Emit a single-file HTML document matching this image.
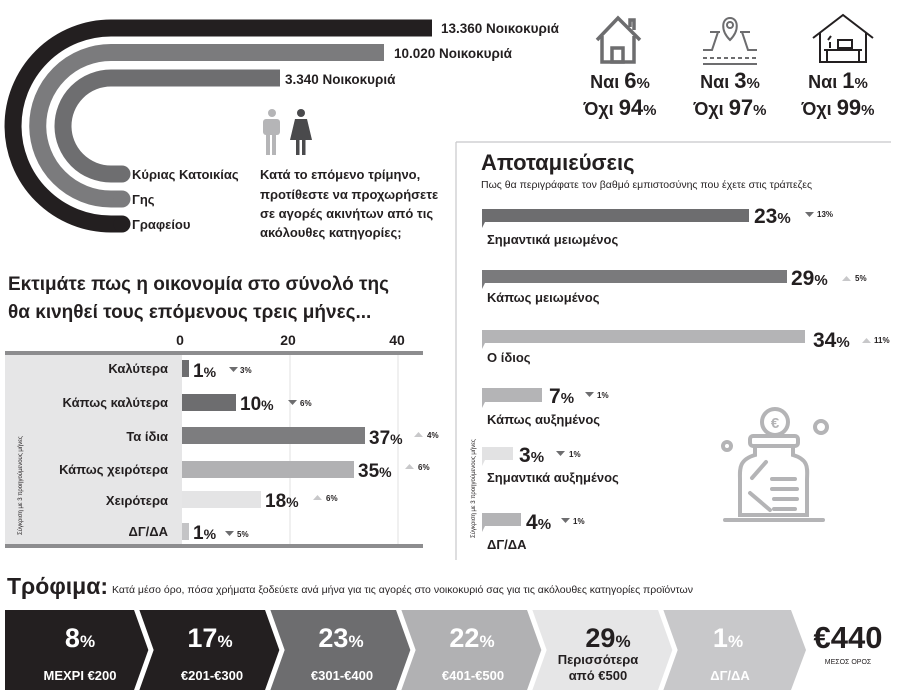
<!DOCTYPE html>
<html><head><meta charset="utf-8"><style>
html,body{margin:0;padding:0;background:#fff}
svg{display:block}
text{font-family:"Liberation Sans",sans-serif;fill:#231f20}
.b{font-weight:bold}
</style></head><body>
<svg width="914" height="695" viewBox="0 0 914 695" xmlns="http://www.w3.org/2000/svg">
<path d="M432 28 H111 A98 98 0 0 0 111 224 H122" fill="none" stroke="#231f20" stroke-width="17"/>
<circle cx="122" cy="224" r="8.5" fill="#231f20"/>
<path d="M384 52.5 H111 A73.25 73.25 0 0 0 111 199 H122" fill="none" stroke="#7b7b7d" stroke-width="17"/>
<circle cx="122" cy="199" r="8.5" fill="#7b7b7d"/>
<path d="M280 78 H111 A48 48 0 0 0 111 174 H122" fill="none" stroke="#6e6e70" stroke-width="17"/>
<circle cx="122" cy="174" r="8.5" fill="#6e6e70"/>
<text x="441" y="33" class="b" font-size="13.5">13.360 Νοικοκυριά</text>
<text x="394" y="58" class="b" font-size="13.5">10.020 Νοικοκυριά</text>
<text x="285" y="84" class="b" font-size="13.5">3.340 Νοικοκυριά</text>
<text x="132" y="179" class="b" font-size="13">Κύριας Κατοικίας</text>
<text x="132" y="204" class="b" font-size="13">Γης</text>
<text x="132" y="229" class="b" font-size="13">Γραφείου</text>
<text class="b" font-size="13"><tspan x="260" y="179">Κατά το επόμενο τρίμηνο,</tspan><tspan x="260" y="199">προτίθεστε να προχωρήσετε</tspan><tspan x="260" y="218">σε αγορές ακινήτων από τις</tspan><tspan x="260" y="237">ακόλουθες κατηγορίες;</tspan></text>
<g fill="#b5b5b7"><circle cx="272" cy="113" r="4"/><rect x="263" y="119" width="17" height="16" rx="3"/><rect x="266" y="133" width="4" height="22"/><rect x="272" y="133" width="4" height="22"/></g>
<g fill="#4a4a4c"><circle cx="301" cy="113" r="4"/><path d="M295 119 H307 L312 140 H290 Z"/><rect x="296" y="138" width="3.5" height="17"/><rect x="302" y="138" width="3.5" height="17"/></g>
<g fill="none" stroke="#6d6d6f" stroke-width="3.5"><path d="M597 40 L618 18 L640 40"/><path d="M602 36 V62 H634 V36"/><rect x="612" y="48" width="11" height="14"/><path d="M630 27 V20 H634 V30"/></g>
<g fill="none" stroke="#6d6d6f" stroke-width="2"><path d="M730 40 C720 30 722 18 730 18 C738 18 740 30 730 40Z"/><circle cx="730" cy="25" r="3"/><path d="M718 32 L712 50 H703 M742 32 L748 50 H757 M720 32 H710 M740 32 H750"/><path d="M703 58 H757" stroke-dasharray="4 3"/><path d="M703 64 H757"/></g>
<g fill="none" stroke="#231f20" stroke-width="2"><path d="M813 38 L843 15 L873 38"/><path d="M820 33 V62 H866 V33"/><path d="M824 50 H862 M827 50 V62 M859 50 V62 M838 40 H852 V48 H838Z M828 40 L831 36 M830 48 V42"/></g>
<g class="b" text-anchor="middle">
<text x="620" y="88" font-size="18">Ναι <tspan font-size="22">6</tspan><tspan font-size="15">%</tspan></text>
<text x="620" y="115" font-size="18">Όχι <tspan font-size="22">94</tspan><tspan font-size="15">%</tspan></text>
<text x="730" y="88" font-size="18">Ναι <tspan font-size="22">3</tspan><tspan font-size="15">%</tspan></text>
<text x="730" y="115" font-size="18">Όχι <tspan font-size="22">97</tspan><tspan font-size="15">%</tspan></text>
<text x="838" y="88" font-size="18">Ναι <tspan font-size="22">1</tspan><tspan font-size="15">%</tspan></text>
<text x="838" y="115" font-size="18">Όχι <tspan font-size="22">99</tspan><tspan font-size="15">%</tspan></text>
</g>
<path d="M456 142 H891 M456 142 V560" stroke="#c8c8ca" stroke-width="1.2" fill="none"/>
<text class="b" font-size="19"><tspan x="8" y="290">Εκτιμάτε πως η οικονομία στο σύνολό της</tspan><tspan x="8" y="318">θα κινηθεί τους επόμενους τρεις μήνες...</tspan></text>
<rect x="5" y="355" width="177" height="190" fill="#e6e6e7"/>
<path d="M290 355 V545 M398 355 V545" stroke="#e0e0e0"/>
<rect x="5" y="351" width="418" height="4" fill="#8d8d8f"/>
<rect x="5" y="544" width="418" height="4" fill="#8d8d8f"/>
<g class="b" font-size="14" text-anchor="middle"><text x="180" y="345">0</text><text x="288" y="345">20</text><text x="397" y="345">40</text></g>
<text transform="translate(22,535) rotate(-90)" font-size="6" fill="#555">Σύγκριση με 3 προηγούμενους μήνες</text>
<g class="b" font-size="13" text-anchor="end">
<text x="168" y="373">Καλύτερα</text><text x="168" y="407">Κάπως καλύτερα</text><text x="168" y="441">Τα ίδια</text><text x="168" y="474">Κάπως χειρότερα</text><text x="168" y="505">Χειρότερα</text><text x="168" y="536">ΔΓ/ΔΑ</text>
</g>
<rect x="182" y="360" width="7" height="17" fill="#6d6d6f"/>
<rect x="182" y="394" width="54" height="17" fill="#6d6d6f"/>
<rect x="182" y="427" width="183" height="17" fill="#7d7d7f"/>
<rect x="182" y="461" width="172" height="17" fill="#b1b1b3"/>
<rect x="182" y="491" width="79" height="17" fill="#e4e4e5"/>
<rect x="182" y="523" width="7" height="17" fill="#c4c4c6"/>
<g class="b" font-size="19">
<text x="193" y="377">1<tspan font-size="14">%</tspan></text>
<text x="240" y="410">10<tspan font-size="14">%</tspan></text>
<text x="369" y="444">37<tspan font-size="14">%</tspan></text>
<text x="358" y="477">35<tspan font-size="14">%</tspan></text>
<text x="265" y="507">18<tspan font-size="14">%</tspan></text>
<text x="193" y="539">1<tspan font-size="14">%</tspan></text>
</g>
<g font-size="8" font-weight="bold">
<path d="M229 367 h9 l-4.5 5z" fill="#6d6d6f"/><text x="240" y="373" fill="#888">3%</text>
<path d="M288 400 h9 l-4.5 5z" fill="#6d6d6f"/><text x="300" y="406" fill="#888">6%</text>
<path d="M414 437 h9 l-4.5 -5z" fill="#c8c8ca"/><text x="427" y="438" fill="#bbb">4%</text>
<path d="M405 469 h9 l-4.5 -5z" fill="#c8c8ca"/><text x="418" y="470" fill="#bbb">6%</text>
<path d="M313 500 h9 l-4.5 -5z" fill="#c8c8ca"/><text x="326" y="501" fill="#bbb">6%</text>
<path d="M225 531 h9 l-4.5 5z" fill="#6d6d6f"/><text x="237" y="537" fill="#888">5%</text>
</g>
<text x="481" y="170" class="b" font-size="22">Αποταμιεύσεις</text>
<text x="481" y="188" font-size="10.5">Πως θα περιγράφατε τον βαθμό εμπιστοσύνης που έχετε στις τράπεζες</text>
<text transform="translate(475,538) rotate(-90)" font-size="6" fill="#555">Σύγκριση με 3 προηγούμενους μήνες</text>
<g>
<path d="M482 209 H749 V222 H485 L482 228Z" fill="#6d6d6f"/>
<path d="M482 270 H787 V283 H485 L482 289Z" fill="#7a7a7c"/>
<path d="M482 330 H805 V343 H485 L482 349Z" fill="#b4b4b6"/>
<path d="M482 388 H542 V402 H485 L482 408Z" fill="#b4b4b6"/>
<path d="M482 447 H513 V460 H485 L482 466Z" fill="#e2e2e3"/>
<path d="M482 513 H521 V526 H485 L482 532Z" fill="#b4b4b6"/>
</g>
<g class="b" font-size="13">
<text x="487" y="244">Σημαντικά μειωμένος</text>
<text x="487" y="302">Κάπως μειωμένος</text>
<text x="487" y="362">Ο ίδιος</text>
<text x="487" y="424">Κάπως αυξημένος</text>
<text x="487" y="482">Σημαντικά αυξημένος</text>
<text x="487" y="549">ΔΓ/ΔΑ</text>
</g>
<g class="b" font-size="21">
<text x="754" y="223">23<tspan font-size="15">%</tspan></text>
<text x="791" y="285">29<tspan font-size="15">%</tspan></text>
<text x="813" y="347">34<tspan font-size="15">%</tspan></text>
<text x="549" y="403">7<tspan font-size="15">%</tspan></text>
<text x="519" y="462">3<tspan font-size="15">%</tspan></text>
<text x="526" y="529">4<tspan font-size="15">%</tspan></text>
</g>
<g font-size="8" font-weight="bold">
<path d="M805 212 h9 l-4.5 5z" fill="#6d6d6f"/><text x="817" y="217" fill="#888">13%</text>
<path d="M842 281 h9 l-4.5 -5z" fill="#c8c8ca"/><text x="855" y="281" fill="#bbb">5%</text>
<path d="M862 343 h9 l-4.5 -5z" fill="#c8c8ca"/><text x="874" y="343" fill="#bbb">11%</text>
<path d="M585 392 h9 l-4.5 5z" fill="#6d6d6f"/><text x="597" y="398" fill="#888">1%</text>
<path d="M556 451 h9 l-4.5 5z" fill="#6d6d6f"/><text x="569" y="457" fill="#888">1%</text>
<path d="M561 518 h9 l-4.5 5z" fill="#6d6d6f"/><text x="573" y="524" fill="#888">1%</text>
</g>
<g fill="none" stroke="#b4b4b6" stroke-width="4" stroke-linecap="round">
<circle cx="775" cy="422" r="13"/><circle cx="821" cy="427" r="6"/><circle cx="727" cy="446" r="4"/>
<rect x="750" y="436" width="48" height="10" rx="3"/>
<path d="M755 446 V455 C738 460 740 470 740 480 V515 H807 V480 C807 470 810 460 793 455 V446"/>
<path d="M725 520 H823"/>
<path d="M752 478 L766 462 M750 493 L770 510 M772 479 H795 M772 489 H797 M774 499 H797 M774 509 H795"/>
</g>
<text x="775" y="428" font-size="15" class="b" text-anchor="middle" style="fill:#b4b4b6">€</text>
<text x="7" y="594" class="b" font-size="23">Τρόφιμα:</text>
<text x="112" y="593" font-size="10.5">Κατά μέσο όρο, πόσα χρήματα ξοδεύετε ανά μήνα για τις αγορές στο νοικοκυριό σας για τις ακόλουθες κατηγορίες προϊόντων</text>
<g>
<path d="M5 610 H136 L151 650 L136 690 H5 Z" fill="#231f20"/>
<path d="M136 610 H267 L282 650 L267 690 H136 L151 650Z" fill="#231f20"/>
<path d="M267 610 H398 L413 650 L398 690 H267 L282 650Z" fill="#6d6d6f"/>
<path d="M398 610 H529 L544 650 L529 690 H398 L413 650Z" fill="#b1b1b3"/>
<path d="M529 610 H660 L675 650 L660 690 H529 L544 650Z" fill="#e6e6e7"/>
<path d="M660 610 H791 L806 650 L791 690 H660 L675 650Z" fill="#c8c8ca"/>
<path d="M136 608 L151 650 L136 692 M267 608 L282 650 L267 692 M398 608 L413 650 L398 692 M529 608 L544 650 L529 692 M660 608 L675 650 L660 692" fill="none" stroke="#fff" stroke-width="5"/>
</g>
<g class="b" text-anchor="middle">
<text x="80" y="647" font-size="27" style="fill:#fff">8<tspan font-size="17">%</tspan></text>
<text x="210" y="647" font-size="27" style="fill:#fff">17<tspan font-size="17">%</tspan></text>
<text x="341" y="647" font-size="27" style="fill:#fff">23<tspan font-size="17">%</tspan></text>
<text x="472" y="647" font-size="27" style="fill:#fff">22<tspan font-size="17">%</tspan></text>
<text x="608" y="647" font-size="27">29<tspan font-size="17">%</tspan></text>
<text x="728" y="647" font-size="27" style="fill:#fff">1<tspan font-size="17">%</tspan></text>
<text x="80" y="680" font-size="13" style="fill:#fff">ΜΕΧΡΙ €200</text>
<text x="212" y="680" font-size="13" style="fill:#fff">€201-€300</text>
<text x="342" y="680" font-size="13" style="fill:#fff">€301-€400</text>
<text x="473" y="680" font-size="13" style="fill:#fff">€401-€500</text>
<text x="598" y="664" font-size="13">Περισσότερα</text>
<text x="598" y="680" font-size="13">από €500</text>
<text x="730" y="680" font-size="13" style="fill:#fff">ΔΓ/ΔΑ</text>
<text x="848" y="648" font-size="31">€440</text>
<text x="848" y="664" font-size="7" font-weight="normal">ΜΕΣΟΣ ΟΡΟΣ</text>
</g>
</svg>
</body></html>
